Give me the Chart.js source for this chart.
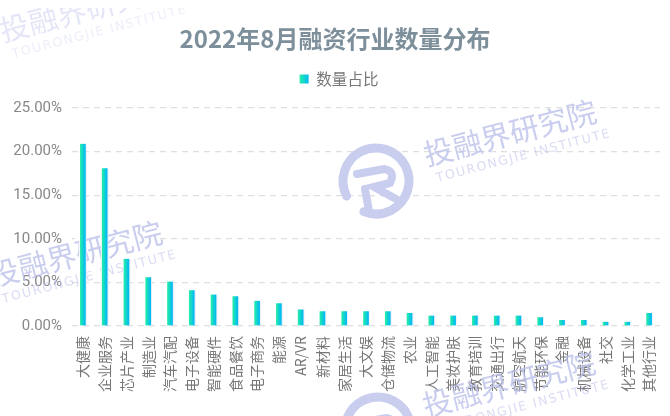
<!DOCTYPE html>
<html>
<head>
<meta charset="utf-8">
<style>
  html, body { margin: 0; padding: 0; background: #fff; }
  #wrap { width: 670px; height: 416px; }
</style>
<script src="https://cdn.jsdelivr.net/npm/chart.js@4/dist/chart.umd.min.js"></script>
</head>
<body>
<div id="wrap"><canvas id="chart"></canvas></div>
<script>
const categories = ['大健康', '企业服务', '芯片产业', '制造业', '汽车汽配', '电子设备', '智能硬件', '食品餐饮', '电子商务', '能源', 'AR/VR', '新材料', '家居生活', '大文娱', '仓储物流', '农业', '人工智能', '美妆护肤', '教育培训', '交通出行', '航空航天', '节能环保', '金融', '机械设备', '社交', '化学工业', '其他行业'];
const shares = [20.9, 18.1, 7.7, 5.6, 5.1, 4.1, 3.6, 3.4, 2.9, 2.6, 1.9, 1.7, 1.7, 1.7, 1.7, 1.5, 1.2, 1.2, 1.2, 1.2, 1.2, 1.0, 0.7, 0.7, 0.5, 0.5, 1.5];
const seriesName = '数量占比';
const chartTitle = '2022年8月融资行业数量分布';

const CJK = '"Noto Sans CJK SC", "Noto Sans", sans-serif';

// degradé horizontal d'une barre
function barGradient(ctx, x0, x1) {
    const g = ctx.createLinearGradient(x0, 0, x1, 0);
    g.addColorStop(0, '#22ecaa');
    g.addColorStop(1, '#00b8f5');
    return g;
}

// filigrane : texte
function drawMark(ctx, x, y, alpha) {
    ctx.save();
    ctx.translate(x, y);
    ctx.rotate(-14.6 * Math.PI / 180);
    ctx.textBaseline = 'alphabetic';
    ctx.globalAlpha = alpha;
    ctx.fillStyle = '#bcc1ea';
    ctx.font = '29.5px ' + CJK;
    ctx.fillText('投融界研究院', 0, 0);
    ctx.globalAlpha = alpha * 0.7;
    ctx.font = '12.5px "DejaVu Sans", sans-serif';
    ctx.letterSpacing = '1.6px';
    ctx.fillText('TOURONGJIE INSTITUTE', 6, 18);
    ctx.restore();
}

// filigrane : logo
function drawLogo(ctx, x, y) {
    ctx.save();
    ctx.translate(x, y);
    ctx.strokeStyle = '#c9cdee';
    ctx.lineCap = 'round';
    ctx.lineWidth = 9;
    ctx.beginPath();
    ctx.arc(0, 0, 33, 0.85 * Math.PI, 0.62 * Math.PI);
    ctx.stroke();
    ctx.lineWidth = 8;
    ctx.beginPath();
    ctx.moveTo(-19, -7);
    ctx.lineTo(8, -12);
    ctx.quadraticCurveTo(20, -10, 14, 2);
    ctx.lineTo(-2, 6);
    ctx.lineTo(20, 18);
    ctx.moveTo(-11, 8);
    ctx.lineTo(-7, 30);
    ctx.stroke();
    ctx.restore();
}

const watermarkPlugin = {
    id: 'watermark',
    afterLayout(chart) {
        // la légende est un peu décalée à droite du titre
        chart.legend.left += 4;
        chart.legend.right += 4;
    },
    beforeDatasetsDraw(chart) {
        const ctx = chart.ctx;
        // le filigrane masque la grille à cet endroit
        ctx.fillStyle = '#fff';
        ctx.fillRect(75, 235, 84, 6);
        drawLogo(ctx, 376, 181);
        drawLogo(ctx, 378, 430);
        drawMark(ctx, 427, 166, 0.8);
        drawMark(ctx, -7, 287, 0.8);
        drawMark(ctx, 426, 417, 0.8);
        // celui du haut est coupé par le bord de l'image
        ctx.save();
        ctx.beginPath();
        ctx.rect(0, 8, 670, 60);
        ctx.clip();
        drawMark(ctx, 3, 42, 0.4);
        ctx.restore();
    }
};

// ombre portée des barres
const barShadowPlugin = {
    id: 'barShadow',
    beforeDatasetDraw(chart) {
        const ctx = chart.ctx;
        ctx.save();
        ctx.shadowColor = 'rgba(120,135,200,0.38)';
        ctx.shadowBlur = 9;
        ctx.shadowOffsetX = 7;
        ctx.shadowOffsetY = 0;
    },
    afterDatasetDraw(chart) {
        chart.ctx.restore();
    }
};

new Chart(document.getElementById('chart').getContext('2d'), {
    type: 'bar',
    plugins: [watermarkPlugin, barShadowPlugin],
    data: {
        labels: categories,
        datasets: [{
            label: seriesName,
            data: shares,
            barThickness: 7,
            borderWidth: { left: 1, right: 1, top: 0, bottom: 0 },
            borderColor: '#fff',
            backgroundColor(context) {
                const chart = context.chart;
                if (!chart.chartArea || context.dataIndex === undefined) return '#0cd3cf';
                const cx = chart.scales.x.getPixelForValue(context.dataIndex);
                return barGradient(chart.ctx, cx - 2.5, cx + 2.5);
            }
        }]
    },
    options: {
        responsive: true,
        maintainAspectRatio: false,
        animation: false,
        layout: { padding: { left: 10, right: 10, top: 24, bottom: 0 } },
        plugins: {
            title: {
                display: true,
                text: chartTitle,
                color: '#7d8f9a',
                font: { family: CJK, size: 24, weight: 'bold' },
                padding: { top: 0, bottom: 0 }
            },
            // sous-titre vide, sert juste d'espace entre légende et graphique
            subtitle: {
                display: true,
                text: ' ',
                weight: 500,
                font: { size: 1 },
                padding: { top: 0, bottom: 10 }
            },
            legend: {
                display: true,
                labels: {
                    boxWidth: 9,
                    boxHeight: 9,
                    color: '#777',
                    font: { family: CJK, size: 15.5 },
                    padding: 18.5,
                    generateLabels(chart) {
                        return [{
                            text: seriesName,
                            fillStyle: barGradient(chart.ctx, 300, 309),
                            lineWidth: 0,
                            strokeStyle: 'transparent',
                            fontColor: '#777',
                            datasetIndex: 0
                        }];
                    }
                }
            },
            tooltip: { enabled: false }
        },
        scales: {
            x: {
                grid: { display: false },
                border: { display: false },
                afterFit(scale) { scale.height = 90; },
                ticks: {
                    autoSkip: false,
                    minRotation: 90,
                    maxRotation: 90,
                    color: '#777',
                    padding: 2,
                    font: { family: CJK, size: 14 }
                }
            },
            y: {
                min: 0,
                max: 25,
                afterFit(scale) { scale.width = 62; },
                border: { display: false, dash: [6, 5] },
                grid: { color: '#dfdfdf', lineWidth: 1.2, drawTicks: false },
                ticks: {
                    stepSize: 5,
                    padding: 10,
                    color: '#888',
                    font: { family: 'Roboto, sans-serif', size: 15 },
                    callback(value) { return value.toFixed(2) + '%'; }
                }
            }
        }
    }
});
</script>
</body>
</html>
